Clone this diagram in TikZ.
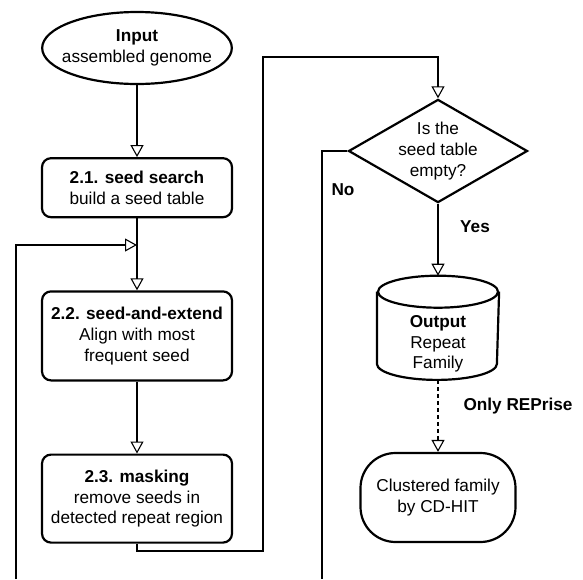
\documentclass[tikz,border=0pt]{standalone}
\usepackage{fontspec}
\setmainfont{Liberation Sans}
\usetikzlibrary{positioning}
\usetikzlibrary{arrows.meta}
\usetikzlibrary{shapes.geometric}
\def\dgmfont{\fontsize{17.2}{20.7}\selectfont}
\tikzstyle{trm}=[draw, line width=2.2pt, shape=ellipse, minimum height=72pt, inner xsep=-8pt, inner ysep=0pt, align=center, font=\dgmfont]
\tikzstyle{stp}=[draw, line width=2.2pt, shape=rectangle, rounded corners=9pt, minimum width=190pt, align=center, font=\dgmfont]
\tikzstyle{dcs}=[draw, line width=2.2pt, shape=diamond, aspect=1.735, minimum width=177pt, minimum height=102pt, inner sep=0pt, align=center, font=\dgmfont]
\tikzstyle{dbs}=[shape=rectangle, minimum width=120pt, minimum height=102pt, outer sep=1.1pt]
\tikzstyle{dbline}=[line width=2.2pt]
\tikzstyle{cls}=[draw, line width=2.2pt, shape=rectangle, rounded corners=35pt, minimum width=155pt, minimum height=89pt, align=center, font=\dgmfont]
\tikzstyle{lbl}=[anchor=base, font=\dgmfont\bfseries]
\tikzstyle{cline}=[line width=1.1pt]
\tikzstyle{carrow}=[line width=1.1pt, -{Triangle[open, length=12pt, width=13pt]}]
\tikzstyle{darrow}=[carrow, dash pattern=on 4pt off 3pt]
\def\trm{\node[style=trm]}
\def\stp{\node[style=stp]}
\def\dcs{\node[style=dcs]}
\def\dbs{\node[style=dbs]}
\def\cls{\node[style=cls]}
\def\lbl{\node[style=lbl]}

\begin{document}
\begin{tikzpicture}[x=1pt, y=-1pt, node distance=72pt]
      \useasboundingbox (0,0) rectangle (583,579);
      % main column
      \trm (input) at (137,48)          {\textbf{Input}\\assembled genome};
      \stp (seed)   [below=of input, minimum height=59pt]  {\textbf{2.1. seed search}\\build a seed table};
      \stp (extend) [below=of seed, minimum height=89pt]   {\textbf{2.2. seed-and-extend}\\Align with most\\frequent seed};
      \stp (mask)   [below=of extend, minimum height=88pt] {\textbf{2.3. masking}\\remove seeds in\\detected repeat region};
      % decision column
      \dcs (empty) at (438,151)         {Is the\\seed table\\empty?};
      \dbs (output) [below=of empty, label={[align=center, font=\dgmfont, yshift=-16pt]center:{\textbf{Output}\\Repeat\\Family}}] {};
      \cls (cluster) [below=of output]  {Clustered family\\by CD-HIT};

      % cylinder outline
      \draw[dbline] ([yshift=-16pt]output.north) ellipse [x radius=60pt, y radius=16pt];
      \draw[dbline] ([yshift=-16pt]output.north west) -- ([yshift=16pt]output.south west)
            arc [start angle=180, end angle=360, x radius=60pt, y radius=16pt]
            -- ([yshift=-16pt]output.north east);

      \coordinate (lpbot) at (16,579);
      \coordinate (lptop) at (16,245);
      \coordinate (mk1) at (263,551);
      \coordinate (mk2) at (263,57);
      \coordinate (nobot) at (322,579);

      \draw[carrow] (input.south) -- (seed.north);
      \draw[carrow] (seed.south) -- (extend.north);
      \draw[carrow] (lpbot) -- (lptop) -- (lptop -| seed.south);
      \draw[carrow] (extend.south) -- (mask.north);
      \draw[carrow] (mask.south) |- (mk1) -- (mk2) -| (empty.north);
      \draw[cline]  (empty.west) -| (nobot);
      \draw[carrow] (empty.south) -- (output.north);
      \draw[darrow] (output.south) -- (cluster.north);

      \lbl (no)   at (343,195) {No};
      \lbl (yes)  at (475,232) {Yes};
      \lbl (only) at (518,410) {Only REPrise};
\end{tikzpicture}
\end{document}
